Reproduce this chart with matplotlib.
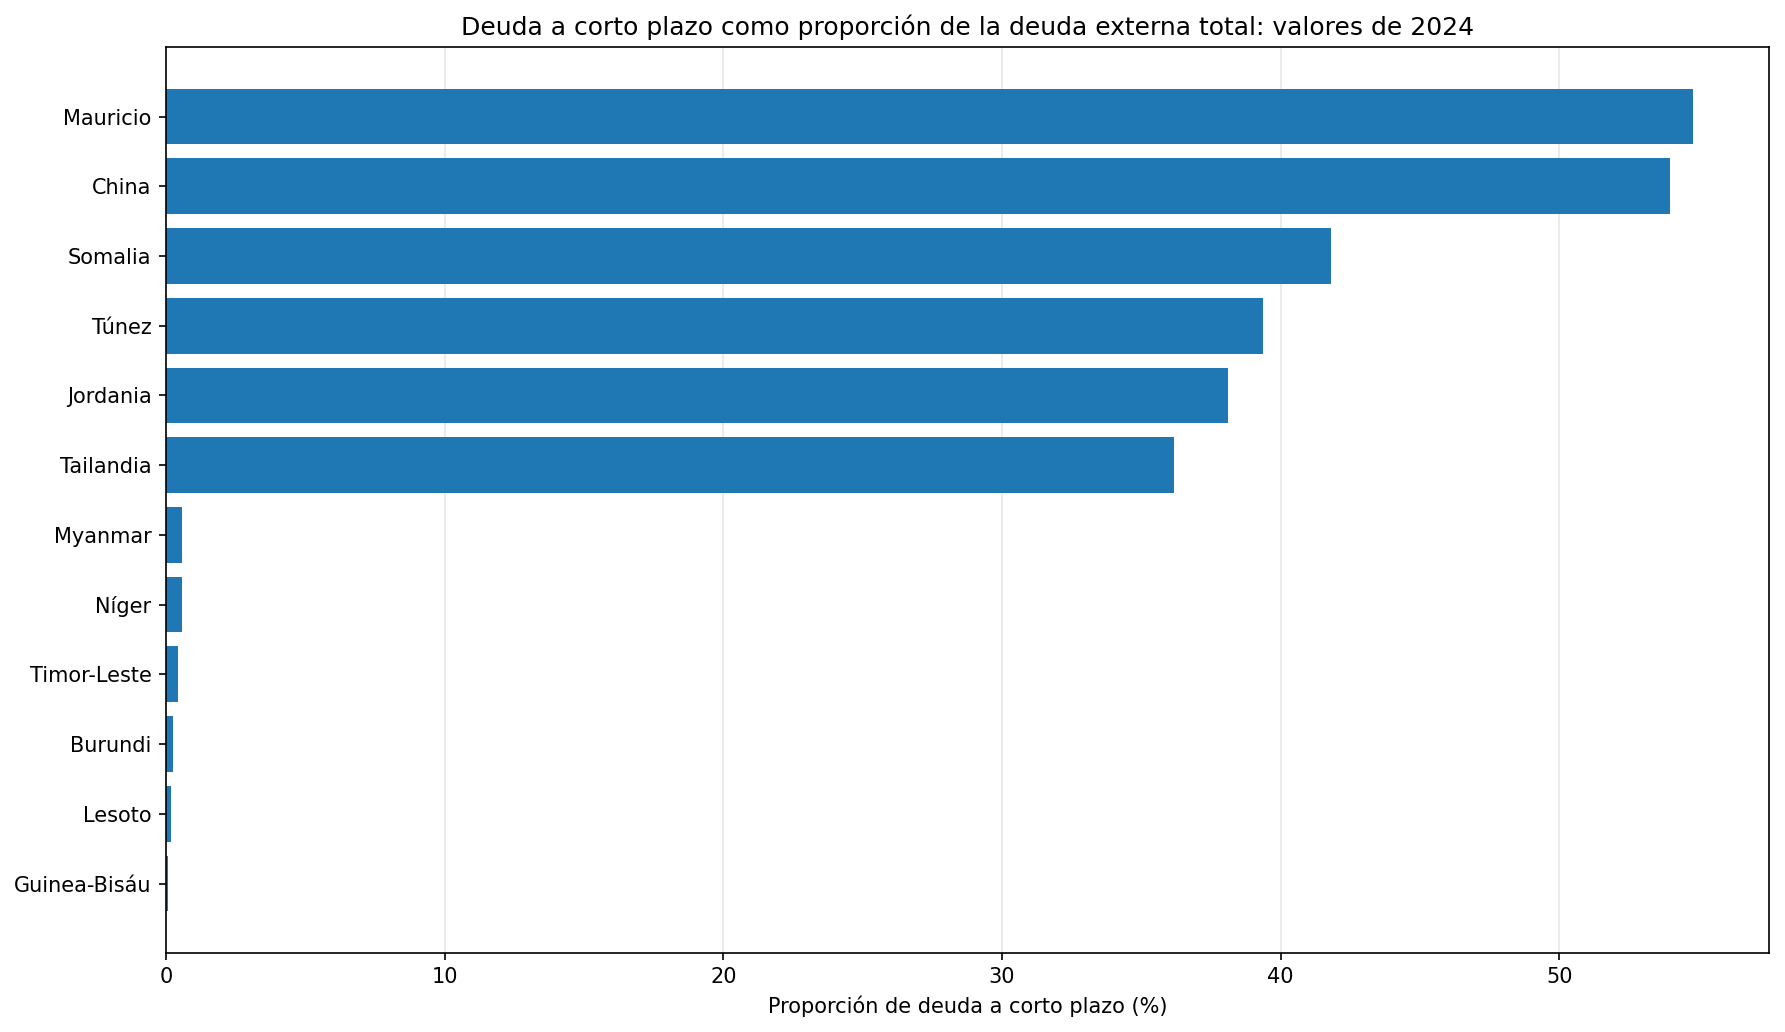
import matplotlib
matplotlib.use("Agg")
import matplotlib.pyplot as plt

# Datos (valores de 2024, %)
countries = ["Mauricio", "China", "Somalia", "Túnez", "Jordania", "Tailandia",
             "Myanmar", "Níger", "Timor-Leste", "Burundi", "Lesoto", "Guinea-Bisáu"]
short_term_share = [54.78, 53.96, 41.8, 39.35, 38.11, 36.18,
                    0.58, 0.58, 0.44, 0.26, 0.19, 0.07]

fig, ax = plt.subplots(figsize=(11.9, 6.88), dpi=150)
fig.subplots_adjust(left=0.093, right=0.991, top=0.954, bottom=0.077)

# de arriba hacia abajo, como en el original
ax.barh(countries[::-1], short_term_share[::-1], color="#1f77b4")
ax.set_title("Deuda a corto plazo como proporción de la deuda externa total: valores de 2024")
ax.set_xlabel("Proporción de deuda a corto plazo (%)")
ax.grid(axis="x", alpha=0.3)
ax.set_axisbelow(True)

fig.savefig("out.png", dpi=150)
